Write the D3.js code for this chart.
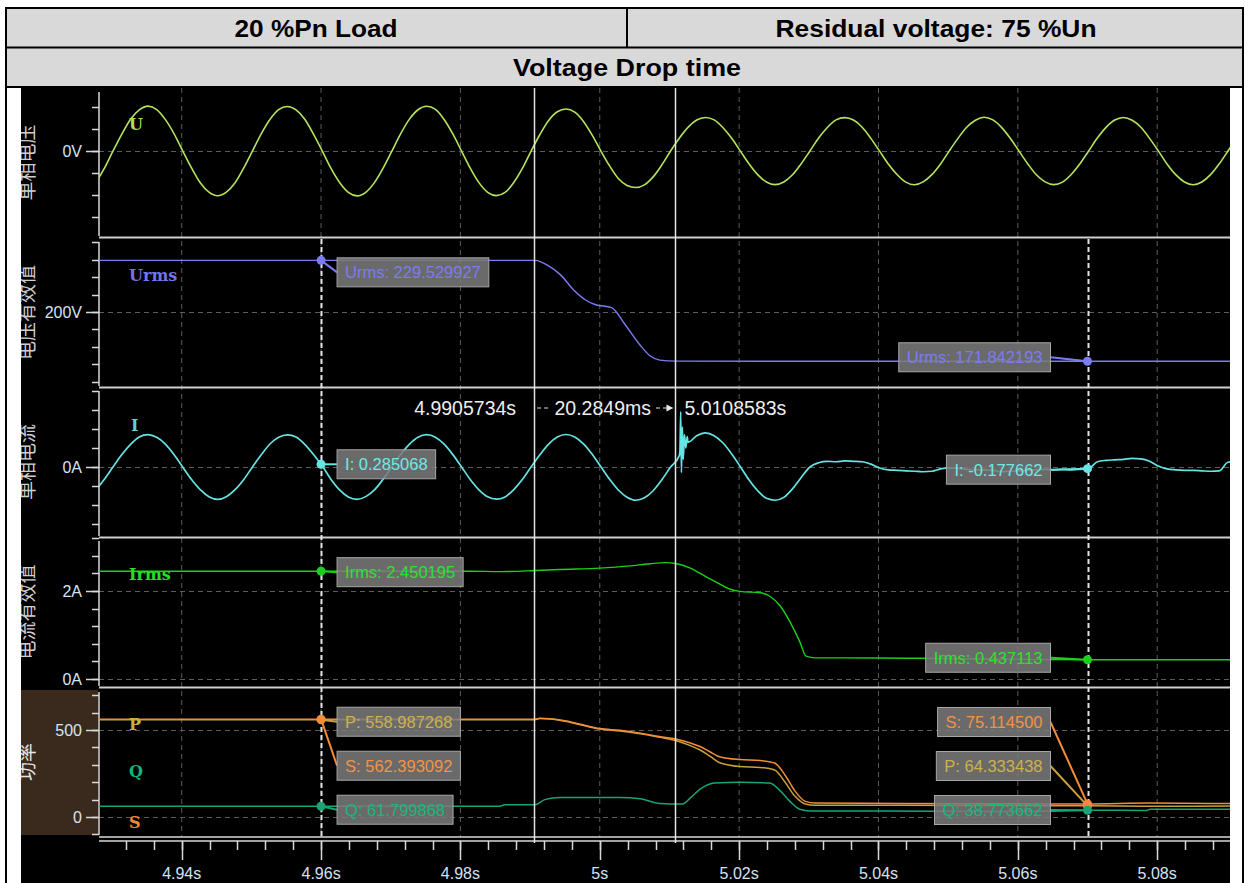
<!DOCTYPE html>
<html>
<head>
<meta charset="utf-8">
<script src="https://cdn.jsdelivr.net/npm/d3@7"></script>
<style>
html, body { margin: 0; padding: 0; background: #fff; }
svg { display: block; }
</style>
</head>
<body>
<svg id="chart" width="1249" height="883"></svg>
<script>
// ---------------- data ----------------
const headerLeft = "20 %Pn Load";
const headerRight = "Residual voltage: 75 %Un";
const headerSub = "Voltage Drop time";

// waveform sampling (16 samples per 20 ms cycle)
const sampleStart = 4.92516;
const sampleStep = 0.00125;

// phase voltage U (V)
const uSamples = [
  -324, -301, -229, -125, 2, 123, 231, 299, 326, 301, 228, 125, -1, -123, -231, -299,
  -325, -299, -231, -123, 1, 125, 229, 301, 324, 299, 231, 123, 1, -125, -229, -301,
  -326, -300, -230, -124, -1, 124, 230, 300, 325, 302, 229, 124, 0, -124, -230, -300,
  -324, -301, -229, -125, 1, 120, 222, 285, 305, 282, 215, 116, 0, -108, -200, -250,
  -265, -246, -188, -101, 0, 93, 172, 225, 244, 226, 171, 94, 1, -93, -172, -225,
  -244, -225, -173, -92, 0, 94, 171, 226, 243, 225, 173, 92, -1, -94, -171, -226,
  -245, -224, -172, -94, 1, 92, 173, 224, 245, 226, 172, 93, 0, -92, -173, -224,
  -244, -226, -171, -93, 0, 94, 172, 225, 244, 224, 173, 92, 1, -94, -172, -225,
  -245, -225, -172, -93, 0, 93
];

// phase current I (A)
const iSamples = [
  -3.38, -3.15, -2.42, -1.28, 0.02, 1.31, 2.38, 3.16, 3.41, 3.12, 2.41, 1.29, -0.02, -1.32, -2.39, -3.13,
  -3.41, -3.13, -2.39, -1.31, 0.01, 1.28, 2.42, 3.13, 3.39, 3.15, 2.38, 1.31, 0.12, -1.28, -2.41, -3.15,
  -3.40, -3.12, -2.41, -1.29, -0.01, 1.32, 2.39, 3.14, 3.40, 3.13, 2.40, 1.30, 0.01, -1.31, -2.40, -3.14,
  -3.39, -3.15, -2.38, -1.30, 0.02, 1.29, 2.41, 3.15, 3.42, 3.16, 2.43, 1.33, 0.02, -1.30, -2.42, -3.18,
  -3.50, -3.25, -2.50, -1.35, 0.00, 1.20, 2.60, 3.30, 3.60, 3.30, 2.55, 1.40, 0.05, -1.35, -2.50, -3.30,
  -3.50, -3.20, -2.30, -1.10, 0.00, 0.45, 0.60, 0.55, 0.65, 0.60, 0.55, 0.30, -0.10, -0.30, -0.35, -0.40,
  -0.45, -0.50, -0.45, -0.20, -0.10, -0.15, -0.25, -0.30, -0.30, -0.35, -0.50, -0.45, -0.40, -0.35, -0.30, -0.25,
  -0.30, -0.25, -0.30, -0.25, -0.18, 0.55, 0.70, 0.75, 0.80, 0.90, 0.85, 0.60, 0.10, -0.20, -0.30, -0.35,
  -0.35, -0.40, -0.45, -0.40, 0.50, 0.60
];

// switching transient on the current, [time s, A]
const iTransient = [
  [5.01150, 1.6], [5.01162, 5.8], [5.01172, -0.6], [5.01185, 4.2],
  [5.01198, 0.8], [5.01215, 3.4], [5.01235, 2.0], [5.01255, 3.2]
];

// RMS voltage [time s, V]
const urmsPoints = [
  [4.9281, 229.53], [4.9600, 229.529927], [4.9907, 229.53], [4.9926, 226.5], [4.9943, 221.5],
  [4.9964, 212.0], [4.9979, 207.0], [4.9993, 204.3], [5.0017, 202.5], [5.0036, 193.0],
  [5.0058, 181.0], [5.0072, 175.0], [5.0086, 172.5], [5.0109, 171.9], [5.0700, 171.842193],
  [5.0905, 171.84]
];

// RMS current [time s, A]
const irmsPoints = [
  [4.9281, 2.450], [4.9600, 2.450195], [4.9814, 2.450], [4.9857, 2.440], [4.9907, 2.465],
  [4.9943, 2.490], [5.0000, 2.520], [5.0043, 2.570], [5.0072, 2.620], [5.0094, 2.645],
  [5.0109, 2.625], [5.0130, 2.520], [5.0144, 2.400], [5.0165, 2.220], [5.0187, 2.040],
  [5.0201, 1.990], [5.0230, 1.960], [5.0244, 1.880], [5.0259, 1.660], [5.0273, 1.300],
  [5.0287, 0.850], [5.0296, 0.520], [5.0309, 0.480], [5.0402, 0.478], [5.0460, 0.470],
  [5.0574, 0.450], [5.0646, 0.440], [5.0700, 0.437113], [5.0905, 0.437]
];

// active power P [time s, W]
const pPoints = [
  [4.9281, 559.0], [4.9600, 558.987268], [4.9907, 559], [4.9914, 566], [4.9929, 563],
  [4.9950, 550], [4.9972, 530], [5.0000, 505], [5.0029, 494], [5.0058, 478],
  [5.0086, 458], [5.0109, 440], [5.0130, 410], [5.0144, 385], [5.0158, 350],
  [5.0173, 310], [5.0201, 290], [5.0230, 285], [5.0251, 270], [5.0266, 200],
  [5.0280, 120], [5.0295, 75], [5.0309, 68], [5.0431, 68], [5.0574, 66],
  [5.0700, 64.333438], [5.0790, 62], [5.0905, 63]
];

// reactive power Q [time s, var]
const qPoints = [
  [4.9281, 61.8], [4.9600, 61.799868], [4.9856, 61.8], [4.9864, 70], [4.9907, 70],
  [4.9921, 100], [4.9943, 112], [5.0029, 112], [5.0058, 105], [5.0086, 78],
  [5.0119, 75], [5.0130, 110], [5.0144, 160], [5.0165, 195], [5.0201, 200],
  [5.0244, 195], [5.0259, 150], [5.0273, 90], [5.0287, 45], [5.0302, 35],
  [5.0402, 35], [5.0574, 32], [5.0646, 33], [5.0700, 38.773662], [5.0785, 38],
  [5.0790, 44], [5.0905, 44]
];

// apparent power S [time s, VA]
const sPoints = [
  [4.9281, 562.4], [4.9600, 562.393092], [4.9907, 562.4], [4.9914, 568], [4.9929, 565],
  [4.9950, 553], [4.9972, 533], [5.0000, 508], [5.0029, 498], [5.0058, 482],
  [5.0086, 462], [5.0109, 448], [5.0130, 425], [5.0144, 405], [5.0158, 375],
  [5.0173, 345], [5.0201, 330], [5.0230, 325], [5.0251, 310], [5.0266, 240],
  [5.0280, 150], [5.0295, 90], [5.0309, 80], [5.0431, 78], [5.0574, 76],
  [5.0700, 75.1145], [5.0790, 80], [5.0905, 77]
];

// measurement cursors
const cursorTimes = [4.9905734, 5.0108583];
const cursorTimeLabels = ["4.9905734s", "5.0108583s"];
const cursorDeltaLabel = "20.2849ms";

// value readout markers
const markerTimes = [4.96, 5.07];
const urmsReadings = [229.529927, 171.842193];
const iReadings = [0.285068, -0.177662];
const irmsReadings = [2.450195, 0.437113];
const pReadings = [558.987268, 64.333438];
const qReadings = [61.799868, 38.773662];
const sReadings = [562.393092, 75.114500];

// axes
const xTicks = [4.94, 4.96, 4.98, 5.00, 5.02, 5.04, 5.06, 5.08];
const xTickLabels = ["4.94s", "4.96s", "4.98s", "5s", "5.02s", "5.04s", "5.06s", "5.08s"];
const uTickValues = [0];      const uTickLabels = ["0V"];
const urmsTickValues = [200]; const urmsTickLabels = ["200V"];
const iTickValues = [0];      const iTickLabels = ["0A"];
const irmsTickValues = [0, 2];   const irmsTickLabels = ["0A", "2A"];
const pqsTickValues = [0, 500];  const pqsTickLabels = ["0", "500"];
const panelTitles = ["单相电压", "电压有效值", "单相电流", "电流有效值", "功率"];

// ---------------- drawing ----------------
const W = 1249, H = 883;
const svg = d3.select("#chart");
const PLOT_L = 99, PLOT_R = 1230;
const axisFont = "'Liberation Sans', Arial, sans-serif";
const tickColor = "#d4e3f2";

svg.append("rect").attr("width", W).attr("height", H).attr("fill", "#fff");

// header table
svg.append("rect").attr("x", 6).attr("y", 8).attr("width", 1237).attr("height", 79).attr("fill", "#d9d9d9");
svg.append("rect").attr("x", 21).attr("y", 88).attr("width", 1209).attr("height", H - 88).attr("fill", "#000");
const border = svg.append("g").attr("stroke", "#000").attr("stroke-width", 2);
border.append("line").attr("x1", 6).attr("x2", 6).attr("y1", 7).attr("y2", H);
border.append("line").attr("x1", 1243).attr("x2", 1243).attr("y1", 7).attr("y2", H);
border.append("line").attr("x1", 5).attr("x2", 1244).attr("y1", 8).attr("y2", 8);
border.append("line").attr("x1", 5).attr("x2", 1244).attr("y1", 47.5).attr("y2", 47.5);
border.append("line").attr("x1", 5).attr("x2", 1244).attr("y1", 87).attr("y2", 87);
border.append("line").attr("x1", 627).attr("x2", 627).attr("y1", 8).attr("y2", 47.5);

const hdrText = (x, y, t, len) => svg.append("text").attr("x", x).attr("y", y)
  .attr("text-anchor", "middle").attr("font-family", axisFont).attr("font-weight", "bold")
  .attr("font-size", 24.5).attr("fill", "#000")
  .attr("textLength", len).attr("lengthAdjust", "spacingAndGlyphs").text(t);
hdrText(316, 37, headerLeft, 163);
hdrText(936, 37, headerRight, 321);
hdrText(627, 76, headerSub, 228);

// scales
const x = d3.scaleLinear().domain([4.92813, 5.09045]).range([PLOT_L, PLOT_R]);

const panels = [
  { top: 88,  bottom: 237, domain: [-625, 458],      step: 160, ticks: uTickValues,    labels: uTickLabels },
  { top: 238, bottom: 387, domain: [157.14, 242.29], step: 10,  ticks: urmsTickValues, labels: urmsTickLabels },
  { top: 387, bottom: 537, domain: [-7.37, 8.42],    step: 2,   ticks: iTickValues,    labels: iTickLabels },
  { top: 537, bottom: 687, domain: [-0.182, 3.227],  step: 0.4, ticks: irmsTickValues, labels: irmsTickLabels },
  { top: 688, bottom: 836, domain: [-109.2, 741.4],  step: 100, ticks: pqsTickValues,  labels: pqsTickLabels }
];
panels.forEach(p => { p.y = d3.scaleLinear().domain(p.domain).range([p.bottom, p.top]); });

// clip regions
const defs = svg.append("defs");
defs.append("clipPath").attr("id", "plotClip").append("rect")
  .attr("x", PLOT_L).attr("y", 88).attr("width", PLOT_R - PLOT_L).attr("height", 837 - 88);
defs.append("clipPath").attr("id", "leftClip").append("rect")
  .attr("x", 21).attr("y", 88).attr("width", 78).attr("height", 760);

// power panel label background
svg.append("rect").attr("x", 21).attr("y", 690).attr("width", 77).attr("height", 145).attr("fill", "#3a2a1e");

// grid
const grid = svg.append("g").attr("clip-path", "url(#plotClip)");
grid.selectAll("line.vg").data(xTicks).join("line")
  .attr("x1", d => x(d)).attr("x2", d => x(d)).attr("y1", 88).attr("y2", 837)
  .attr("stroke", "#5c5c5c").attr("stroke-width", 1).attr("stroke-dasharray", "5,4");
panels.forEach(p => {
  grid.selectAll(null).data(p.ticks).join("line")
    .attr("x1", PLOT_L).attr("x2", PLOT_R).attr("y1", d => Math.round(p.y(d)) + 0.5).attr("y2", d => Math.round(p.y(d)) + 0.5)
    .attr("stroke", "#5c5c5c").attr("stroke-width", 1).attr("stroke-dasharray", "5,4");
});

// panel separators
[237.5, 387.5, 537.5, 687.5].forEach(yy => {
  svg.append("line").attr("x1", PLOT_L).attr("x2", PLOT_R).attr("y1", yy).attr("y2", yy)
    .attr("stroke", "#d0d0d0").attr("stroke-width", 2);
});

// y axes
panels.forEach((p, idx) => {
  const g = svg.append("g");
  g.append("line").attr("x1", PLOT_L).attr("x2", PLOT_L).attr("y1", p.top + 4).attr("y2", p.bottom - 1)
    .attr("stroke", "#d8d8d8").attr("stroke-width", 1.5);
  const n0 = Math.ceil(p.domain[0] / p.step - 1e-9), n1 = Math.floor(p.domain[1] / p.step + 1e-9);
  const minor = d3.range(n0, n1 + 1).map(n => n * p.step);
  g.selectAll(null).data(minor).join("line")
    .attr("x1", PLOT_L - 7).attr("x2", PLOT_L).attr("y1", d => Math.round(p.y(d)) + 0.5).attr("y2", d => Math.round(p.y(d)) + 0.5)
    .attr("stroke", "#d8d8d8").attr("stroke-width", 1.5);
  g.selectAll(null).data(p.ticks).join("line")
    .attr("x1", PLOT_L - 13).attr("x2", PLOT_L).attr("y1", d => Math.round(p.y(d)) + 0.5).attr("y2", d => Math.round(p.y(d)) + 0.5)
    .attr("stroke", "#d8d8d8").attr("stroke-width", 1.5);
  g.selectAll(null).data(p.ticks).join("text")
    .attr("x", 82).attr("y", d => p.y(d)).attr("dy", "0.36em").attr("text-anchor", "end")
    .attr("font-family", axisFont).attr("font-size", 16).attr("fill", tickColor)
    .text((d, i) => p.labels[i]);
  // rotated panel title
  svg.append("g").attr("clip-path", "url(#leftClip)")
    .append("text")
    .attr("transform", `translate(34,${(p.top + p.bottom) / 2}) rotate(-90)`)
    .attr("text-anchor", "middle").attr("font-family", "'Noto Sans CJK SC', sans-serif")
    .attr("font-size", 19).attr("fill", idx === 4 ? "#e6e6e6" : "#cfcfcf")
    .text(panelTitles[idx]);
});

// x axis
const xAxisG = svg.append("g");
[837, 841].forEach(yy => xAxisG.append("line").attr("x1", PLOT_L).attr("x2", PLOT_R)
  .attr("y1", yy).attr("y2", yy).attr("stroke", "#d8d8d8").attr("stroke-width", 1.5));
const xMinor = d3.range(Math.ceil(x.domain()[0] / 0.004), Math.floor(x.domain()[1] / 0.004) + 1).map(n => n * 0.004);
xAxisG.selectAll(null).data(xMinor).join("line")
  .attr("x1", d => Math.round(x(d)) + 0.5).attr("x2", d => Math.round(x(d)) + 0.5).attr("y1", 841).attr("y2", 850)
  .attr("stroke", "#d8d8d8").attr("stroke-width", 1.5);
xAxisG.selectAll(null).data(xTicks).join("line")
  .attr("x1", d => Math.round(x(d)) + 0.5).attr("x2", d => Math.round(x(d)) + 0.5).attr("y1", 841).attr("y2", 860)
  .attr("stroke", "#d8d8d8").attr("stroke-width", 1.5);
xAxisG.selectAll(null).data(xTicks).join("text")
  .attr("x", d => x(d)).attr("y", 879).attr("text-anchor", "middle")
  .attr("font-family", axisFont).attr("font-size", 16).attr("fill", tickColor)
  .text((d, i) => xTickLabels[i]);

// series
const toObj = arr => arr.map(([t, v]) => ({ t, v }));
const uSeries = uSamples.map((v, k) => ({ t: sampleStart + k * sampleStep, v }));
const iSeries = iSamples.map((v, k) => ({ t: sampleStart + k * sampleStep, v }))
  .concat(toObj(iTransient)).sort((a, b) => a.t - b.t);

const plot = svg.append("g").attr("clip-path", "url(#plotClip)");
function drawLine(data, p, color, width) {
  const line = d3.line().x(d => x(d.t)).y(d => p.y(d.v)).curve(d3.curveMonotoneX);
  plot.append("path").datum(data).attr("d", line).attr("fill", "none")
    .attr("stroke", color).attr("stroke-width", width).attr("stroke-linejoin", "round");
}
const C = {
  u: "#b5e35c", urms: "#7b7cf2", i: "#66e3e3", irms: "#1ccf1c",
  p: "#c9a13c", q: "#17a673", s: "#f28c38"
};
drawLine(uSeries, panels[0], C.u, 1.6);
drawLine(toObj(urmsPoints), panels[1], C.urms, 1.4);
drawLine(iSeries, panels[2], C.i, 1.7);
drawLine(toObj(irmsPoints), panels[3], C.irms, 1.4);
drawLine(toObj(qPoints), panels[4], C.q, 1.5);
drawLine(toObj(pPoints), panels[4], C.p, 1.5);
drawLine(toObj(sPoints), panels[4], C.s, 1.5);

// series name labels
const nameFont = "'DejaVu Serif', 'Liberation Serif', serif";
[["U", 129, 130, "#b2df4f"], ["Urms", 129, 281, "#7474e8"], ["I", 131, 431, "#55d6d6"],
 ["Irms", 129, 580, "#22e022"], ["P", 129, 730, "#c9b040"], ["Q", 129, 777, "#15b27a"],
 ["S", 129, 828, "#f08a34"]].forEach(([t, lx, ly, col]) => {
  svg.append("text").attr("x", lx).attr("y", ly).attr("font-family", nameFont)
    .attr("font-weight", "bold").attr("font-size", 16).attr("fill", col).text(t);
});

// measurement cursors (solid)
cursorTimes.forEach(t => {
  svg.append("line").attr("x1", Math.round(x(t)) + 0.5).attr("x2", Math.round(x(t)) + 0.5)
    .attr("y1", 88).attr("y2", 843).attr("stroke", "#e4e4e4").attr("stroke-width", 1.5);
});
// readout cursors (dashed)
markerTimes.forEach(t => {
  svg.append("line").attr("x1", Math.round(x(t)) + 0.5).attr("x2", Math.round(x(t)) + 0.5)
    .attr("y1", 239).attr("y2", 837).attr("stroke", "#e4e4e4").attr("stroke-width", 2)
    .attr("stroke-dasharray", "5,3");
});

// cursor time readouts
const cxA = x(cursorTimes[0]), cxB = x(cursorTimes[1]);
const cursorTextY = 415;
const ctFont = { family: axisFont, size: 19.5, color: "#eeeeee" };
svg.append("text").attr("x", cxA - 18).attr("y", cursorTextY).attr("text-anchor", "end")
  .attr("font-family", ctFont.family).attr("font-size", ctFont.size).attr("fill", ctFont.color)
  .text(cursorTimeLabels[0]);
const deltaText = svg.append("text").attr("x", (cxA + cxB) / 2 - 2).attr("y", cursorTextY).attr("text-anchor", "middle")
  .attr("font-family", ctFont.family).attr("font-size", ctFont.size).attr("fill", ctFont.color)
  .text(cursorDeltaLabel);
svg.append("text").attr("x", cxB + 9).attr("y", cursorTextY)
  .attr("font-family", ctFont.family).attr("font-size", ctFont.size).attr("fill", ctFont.color)
  .text(cursorTimeLabels[1]);
const dw = deltaText.node().getComputedTextLength();
const dMid = (cxA + cxB) / 2 - 2, arrowY = 408;
svg.append("line").attr("x1", cxA + 3).attr("x2", dMid - dw / 2 - 5).attr("y1", arrowY).attr("y2", arrowY)
  .attr("stroke", "#e0e0e0").attr("stroke-width", 1.2).attr("stroke-dasharray", "4,3");
svg.append("line").attr("x1", dMid + dw / 2 + 5).attr("x2", cxB - 8).attr("y1", arrowY).attr("y2", arrowY)
  .attr("stroke", "#e0e0e0").attr("stroke-width", 1.2).attr("stroke-dasharray", "4,3");
svg.append("path").attr("d", `M${cxB - 9},${arrowY - 3.5} L${cxB - 2},${arrowY} L${cxB - 9},${arrowY + 3.5} Z`)
  .attr("fill", "#e8e8e8");

// value readouts
const labelFont = 16.5, boxH = 29, pad = 8;
const layer = svg.append("g");
function readout(t, value, p, name, lineColor, textColor, side, boxCy) {
  const px = x(t), py = p.y(value);
  const g = layer.append("g");
  const conn = g.append("line").attr("stroke", lineColor).attr("stroke-width", 2);
  const rect = g.append("rect").attr("height", boxH).attr("fill", "#7c7c7c").attr("fill-opacity", 0.86)
    .attr("stroke", "#a6a6a6").attr("stroke-width", 1);
  const txt = g.append("text").attr("font-family", axisFont).attr("font-size", labelFont)
    .attr("fill", textColor).text(`${name}: ${value.toFixed(6)}`);
  const w = txt.node().getComputedTextLength() + 2 * pad;
  const bx = side === "right" ? px + 16 : px - 37 - w;
  rect.attr("x", bx).attr("y", boxCy - boxH / 2).attr("width", w);
  txt.attr("x", bx + pad).attr("y", boxCy + 6);
  conn.attr("x1", px).attr("y1", py).attr("x2", side === "right" ? bx : bx + w).attr("y2", boxCy);
  return { px, py };
}
const dots = [];
function addDot(px, py, color) { dots.push({ px, py, color }); }

const sides = ["right", "left"];
const urmsOff = [12, -4], iOff = [0, 1], irmsOff = [1, -2];
markerTimes.forEach((t, m) => {
  let r;
  r = readout(t, urmsReadings[m], panels[1], "Urms", C.urms, "#7c7cf0", sides[m], panels[1].y(urmsReadings[m]) + urmsOff[m]);
  addDot(r.px, r.py, C.urms);
  r = readout(t, iReadings[m], panels[2], "I", C.i, "#6fe8e8", sides[m], panels[2].y(iReadings[m]) + iOff[m]);
  addDot(r.px, r.py, C.i);
  r = readout(t, irmsReadings[m], panels[3], "Irms", C.irms, "#2ee02e", sides[m], panels[3].y(irmsReadings[m]) + irmsOff[m]);
  addDot(r.px, r.py, C.irms);
});

// power readouts stacked so the boxes do not overlap
const powerOrders = [["P", "S", "Q"], ["S", "P", "Q"]];
const powerInfo = {
  P: { vals: pReadings, line: "#c9a13c", text: "#cdb24a" },
  S: { vals: sReadings, line: C.s, text: "#f39344" },
  Q: { vals: qReadings, line: C.q, text: "#19b77a" }
};
markerTimes.forEach((t, m) => {
  const p = panels[4];
  const order = powerOrders[m];
  const gap = 44, maxCenter = p.bottom - 26;
  const centers = [];
  order.forEach((k, j) => {
    const target = p.y(powerInfo[k].vals[m]) + 2;
    centers.push(j === 0 ? target : Math.max(target, centers[j - 1] + gap));
  });
  const over = centers[centers.length - 1] - maxCenter;
  if (over > 0) centers.forEach((c, j) => centers[j] = c - over);
  order.forEach((k, j) => {
    const info = powerInfo[k];
    readout(t, info.vals[m], p, k, info.line, info.text, sides[m], centers[j]);
  });
  ["P", "S", "Q"].forEach(k => addDot(x(t), p.y(powerInfo[k].vals[m]), k === "P" ? "#e89440" : powerInfo[k].line));
});

layer.selectAll("circle.dot").data(dots).join("circle")
  .attr("cx", d => d.px).attr("cy", d => d.py).attr("r", 4.5).attr("fill", d => d.color);
</script>
</body>
</html>
